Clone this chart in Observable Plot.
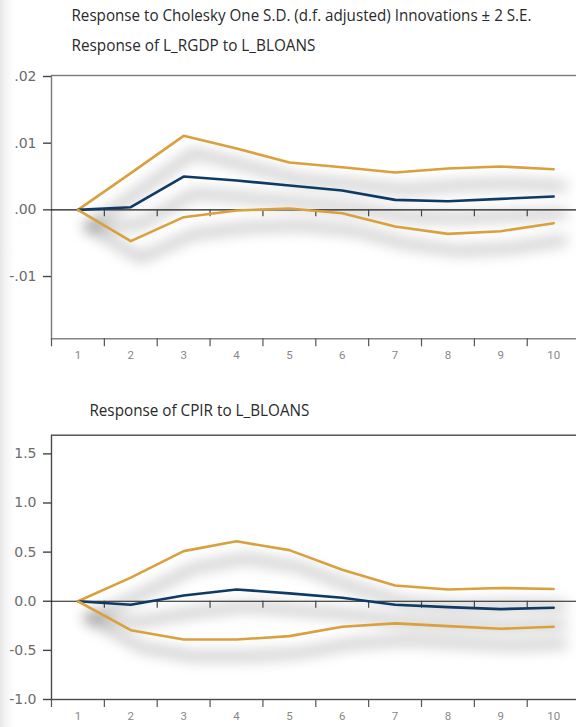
<!DOCTYPE html>
<html><head><meta charset="utf-8">
<script src="https://cdn.jsdelivr.net/npm/d3@7"></script>
<script src="https://cdn.jsdelivr.net/npm/@observablehq/plot@0.6"></script>
<style>
body{margin:0;background:#fff}
#wrap{position:relative;width:576px;height:727px;overflow:hidden;background:linear-gradient(to right,#e6e6e6 0px,#f3f3f3 5px,#fcfcfc 12px,#fff 16px)}
#wrap svg{position:absolute;left:0}
</style></head><body><div id="wrap"></div>
<script>
// ---- data ----
const periods = [1, 2, 3, 4, 5, 6, 7, 8, 9, 10];
const rgdpResponse = [0, 0.0004, 0.0050, 0.0044, 0.00365, 0.0029, 0.0015, 0.0013, 0.00165, 0.0020];
const rgdpUpper    = [0, 0.0055, 0.0111, 0.0092, 0.0071, 0.0064, 0.0056, 0.0062, 0.0065, 0.0061];
const rgdpLower    = [0, -0.0047, -0.0011, -0.0001, 0.0002, -0.0005, -0.0025, -0.0036, -0.0032, -0.0020];
const cpirResponse = [0, -0.035, 0.058, 0.12, 0.08, 0.035, -0.035, -0.06, -0.08, -0.066];
const cpirUpper    = [0, 0.24, 0.51, 0.61, 0.52, 0.32, 0.16, 0.12, 0.135, 0.125];
const cpirLower    = [0, -0.295, -0.39, -0.39, -0.355, -0.26, -0.225, -0.253, -0.28, -0.26];
const rgdpTicks = [-0.01, 0, 0.01, 0.02];
const cpirTicks = [-1, -0.5, 0, 0.5, 1, 1.5];
const mainTitle = "Response to Cholesky One S.D. (d.f. adjusted) Innovations \u00b1 2 S.E.";
const rgdpTitle = "Response of L_RGDP to L_BLOANS";
const cpirTitle = "Response of CPIR to L_BLOANS";

const GOLD = "#D9A03E", NAVY = "#0E3A63";
const boundaries = periods.map(p => p + 0.5);          // between periods
const allBounds = [periods[0] - 0.5, ...boundaries];

function table(resp, up, lo) {
  const rows = [];
  periods.forEach((p, i) => {
    rows.push({p, v: up[i], s: "upper"});
    rows.push({p, v: resp[i], s: "resp"});
    rows.push({p, v: lo[i], s: "lower"});
  });
  return rows;
}

function panel({yDomain, yTicks, fmt, resp, up, lo, height, marginTop, marginBottom, frameStroke}) {
  const data = table(resp, up, lo);
  const svg = Plot.plot({
    width: 576, height, marginTop, marginBottom, marginLeft: 51, marginRight: -2,
    x: {domain: [0.5, 10.47], label: null},
    y: {domain: yDomain, label: null},
    style: {background: "transparent", overflow: "visible", fontFamily: "DejaVu Sans, sans-serif"},
    marks: [
      Plot.line(data, {x: "p", y: "v", z: "s", stroke: "#000", strokeOpacity: 0.28, strokeWidth: 7, dx: 10, dy: 17}),
      Plot.frame({stroke: frameStroke, strokeWidth: 1.4}),
      Plot.ruleY([0], {stroke: "#1a1a1a", strokeWidth: 1.1}),
      Plot.ruleX(boundaries, {x: d => d, y1: 0, y2: 0, insetBottom: -7, stroke: "#444", strokeWidth: 1.2}),
      Plot.axisX(allBounds, {label: null, tickSize: 8, tickFormat: () => "", stroke: "#555", strokeWidth: 1.2}),
      Plot.axisX(periods, {label: null, tickSize: 0, tickPadding: 12, color: "#888", fontSize: 11.5,
        fontFamily: "Roboto, sans-serif"}),
      Plot.axisY(yTicks, {label: null, tickSize: 8, tickPadding: 7, tickFormat: fmt, line: true, stroke: "#444", strokeWidth: 1.4,
        fill: "#6b6b6b", fontSize: 14, fontFamily: "DejaVu Sans, sans-serif"}),
      Plot.line(data, {x: "p", y: "v", z: "s", stroke: d => d.s === "resp" ? NAVY : GOLD, strokeWidth: 2.6})
    ]
  });
  // blur the shadow copy of the lines
  const ns = "http://www.w3.org/2000/svg";
  const id = "blur" + Math.random().toString(36).slice(2);
  const defs = document.createElementNS(ns, "defs");
  const f = document.createElementNS(ns, "filter");
  f.setAttribute("id", id);
  f.setAttribute("filterUnits", "userSpaceOnUse");
  f.setAttribute("x", "-50"); f.setAttribute("y", "-50");
  f.setAttribute("width", "700"); f.setAttribute("height", "500");
  const b = document.createElementNS(ns, "feGaussianBlur");
  b.setAttribute("stdDeviation", "7");
  f.appendChild(b); defs.appendChild(f);
  svg.insertBefore(defs, svg.firstChild);
  const g = svg.querySelector('g[aria-label="line"]');
  if (g) g.setAttribute("filter", `url(#${id})`);
  return svg;
}

const wrap = document.getElementById("wrap");

const p1 = panel({
  yDomain: [-0.01934, 0.02015], yTicks: rgdpTicks,
  fmt: d => d.toFixed(2).replace("0.", "."),
  resp: rgdpResponse, up: rgdpUpper, lo: rgdpLower,
  height: 370, marginTop: 75, marginBottom: 31.7, frameStroke: "#7a7a7a"
});
p1.style.top = "0px";
wrap.appendChild(p1);

const p2 = panel({
  yDomain: [-1.0, 1.69], yTicks: cpirTicks,
  fmt: d => d.toFixed(1),
  resp: cpirResponse, up: cpirUpper, lo: cpirLower,
  height: 357, marginTop: 64.7, marginBottom: 28, frameStroke: "#4a4a4a"
});
p2.style.top = "370px";
wrap.appendChild(p2);

// titles
const ns = "http://www.w3.org/2000/svg";
const tsvg = document.createElementNS(ns, "svg");
tsvg.setAttribute("width", 576); tsvg.setAttribute("height", 727);
tsvg.style.top = "0px"; tsvg.style.pointerEvents = "none";
[[mainTitle, 71.5, 21, 460], [rgdpTitle, 71.5, 50.5, 244], [cpirTitle, 89.4, 416, 220]].forEach(([txt, x, y, w]) => {
  const t = document.createElementNS(ns, "text");
  t.setAttribute("x", x); t.setAttribute("y", y);
  t.setAttribute("textLength", w); t.setAttribute("lengthAdjust", "spacingAndGlyphs");
  t.setAttribute("font-family", "Open Sans, Lato, sans-serif");
  t.setAttribute("font-size", "15.5");
  t.setAttribute("fill", "#2a2a2a");
  t.textContent = txt;
  tsvg.appendChild(t);
});
wrap.appendChild(tsvg);
</script>
</body></html>
